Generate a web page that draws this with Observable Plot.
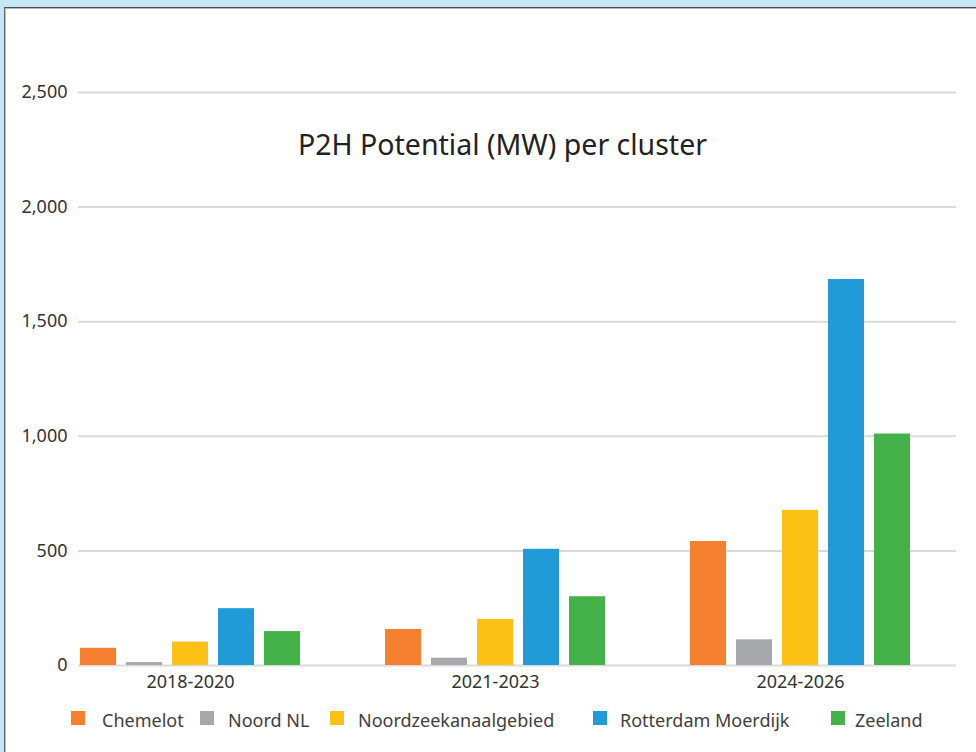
<!DOCTYPE html>
<html>
<head>
<meta charset="utf-8">
<script src="https://cdn.jsdelivr.net/npm/d3@7"></script>
<script src="https://cdn.jsdelivr.net/npm/@observablehq/plot@0.6"></script>
<style>
  html, body { margin: 0; padding: 0; width: 976px; height: 752px; overflow: hidden; background: #c6e7f8; font-family: "Noto Sans", sans-serif; }
  #box { position: absolute; left: 4px; top: 7px; width: 990px; height: 760px; background: #fff; border-top: 1px solid #4d4d4d; border-left: 1px solid #6a6a6a; box-shadow: inset 1px 1px 0 #b8b8b8; }
  .layer { position: absolute; left: 0; top: 0; }
  #title { position: absolute; left: 0; top: 130px; width: 1005px; text-align: center; font-size: 28.5px; line-height: 1; color: #222; }
  .lg { position: absolute; top: 711px; font-size: 18px; color: #404040; line-height: 1; }
  .sw { position: absolute; width: 14px; height: 14px; top: 711px; }
</style>
</head>
<body>
<div id="box"></div>
<div id="grid" class="layer"></div>
<div id="chart" class="layer"></div>
<div id="title">P2H Potential (MW) per cluster</div>
<div id="legend"></div>
<script>
// ---- data ----
const groups = ["2018-2020", "2021-2023", "2024-2026"];
const series = ["Chemelot", "Noord NL", "Noordzeekanaalgebied", "Rotterdam Moerdijk", "Zeeland"];
const chemelot = [75, 157, 541];
const noordNL = [13, 32, 112];
const noordzee = [102, 201, 677];
const rotterdam = [248, 507, 1684];
const zeeland = [148, 300, 1010];
const yTicks = [0, 500, 1000, 1500, 2000, 2500];

// ---- styles ----
const colors = ["#f58030", "#a7a8ab", "#fdc116", "#209bd7", "#45b149"];

const valuesBySeries = [chemelot, noordNL, noordzee, rotterdam, zeeland];
const data = [];
groups.forEach((g, gi) => series.forEach((s, si) => data.push({group: g, series: s, value: valuesBySeries[si][gi]})));

const common = {
  width: 976,
  height: 700,
  marginTop: 92,
  marginBottom: 35,
  marginLeft: 78,
  marginRight: 20,
  style: {fontFamily: "Noto Sans", fontSize: "18px", color: "#333", background: "transparent"}
};

// Layer 1: continuous grid + y axis
const gridPlot = Plot.plot({
  ...common,
  y: {domain: [0, 2500], label: null},
  marks: [
    Plot.ruleY(yTicks, {stroke: "#dadada", strokeWidth: 2}),
    Plot.axisY({ticks: yTicks, tickFormat: d3.format(","), tickSize: 0, tickPadding: 11, fontSize: 18, label: null})
  ]
});
document.getElementById("grid").appendChild(gridPlot);

// Layer 2: grouped bars (same y scale, no axis)
const barPlot = Plot.plot({
  ...common,
  y: {domain: [0, 2500], axis: null},
  fx: {domain: groups, paddingInner: 0.267, paddingOuter: 0.07, align: 0, label: null},
  x: {domain: series, paddingInner: 0.213, paddingOuter: 0, axis: null},
  color: {domain: series, range: colors},
  marks: [
    Plot.barY(data, {fx: "group", x: "series", y: "value", fill: "series"}),
    Plot.axisFx({anchor: "bottom", tickSize: 0, tickPadding: 10, fontSize: 18, label: null})
  ]
});
document.getElementById("chart").appendChild(barPlot);

// legend (layout positions only)
const legendSwatchX = [71, 200, 330, 593, 831];
const legendTextX = [102, 228, 358, 620, 855];
const lg = document.getElementById("legend");
series.forEach((s, i) => {
  const sw = document.createElement("div");
  sw.className = "sw";
  sw.style.left = legendSwatchX[i] + "px";
  sw.style.background = colors[i];
  lg.appendChild(sw);
  const t = document.createElement("div");
  t.className = "lg";
  t.style.left = legendTextX[i] + "px";
  t.textContent = s;
  lg.appendChild(t);
});
</script>
</body>
</html>
